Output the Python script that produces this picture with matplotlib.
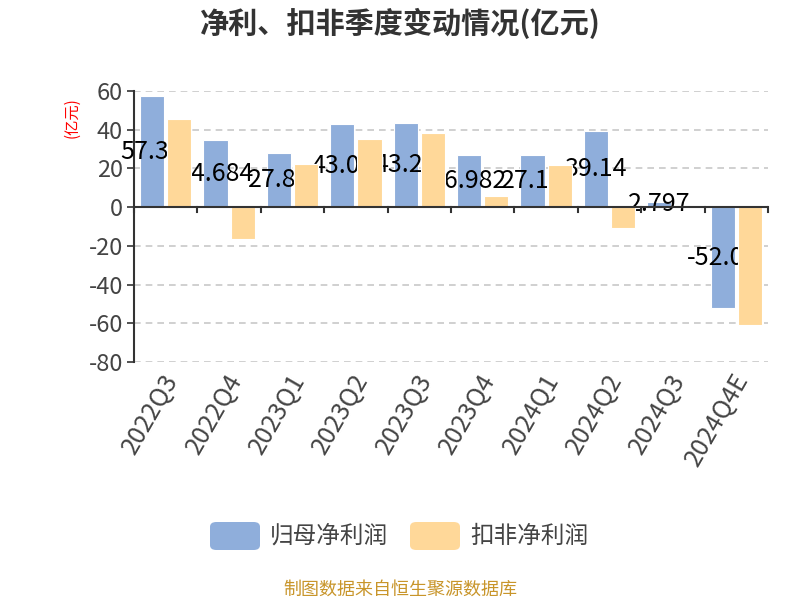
import matplotlib
matplotlib.use("Agg")
import matplotlib.pyplot as plt
from matplotlib.patches import FancyBboxPatch
import numpy as np

plt.rcParams['font.family'] = ['Noto Sans CJK SC', 'DejaVu Sans']

categories = ["2022Q3", "2022Q4", "2023Q1", "2023Q2", "2023Q3",
              "2023Q4", "2024Q1", "2024Q2", "2024Q3", "2024Q4E"]
net_profit = [57.39, 34.684, 27.82, 43.02, 43.22, 26.982, 27.13, 39.14, 2.797, -52.04]
deducted_profit = [45.5, -16.2, 22.2, 35.1, 38.2, 6.0, 21.7, -10.8, 0.5, -61.0]
series_names = ["归母净利润", "扣非净利润"]
yticks = [-80, -60, -40, -20, 0, 20, 40, 60]

blue = "#8FAEDB"
beige = "#FFD899"

fig = plt.figure(figsize=(8, 6), dpi=100)
ax = fig.add_axes([134/800, 1-362/600, (768-134)/800, (362-91)/600])

x = np.arange(len(categories))
w = 0.38
off = 0.215
ax.bar(x - off, net_profit, width=w, color=blue, edgecolor="white", linewidth=0.8, zorder=2)
for xi, v in zip(x, net_profit):
    ax.text(xi - off, v / 2, f"{v:g}", ha="center", va="center", fontsize=18,
            color="black", zorder=3)
ax.bar(x + off, deducted_profit, width=w, color=beige, edgecolor="white", linewidth=0.8, zorder=4)

ax.set_xlim(-0.5, len(categories) - 0.5)
ax.set_ylim(-80, 60)
ax.set_yticks(yticks)
ax.set_yticklabels([str(t) for t in yticks], fontsize=17, color="#444")
ax.tick_params(axis="y", length=5, width=1.2, color="#333", pad=3)
ax.yaxis.grid(True, linestyle=(0, (4, 3)), color="#c8c8c8", linewidth=1.2, zorder=0)
ax.set_axisbelow(True)

for s in ["top", "right", "bottom"]:
    ax.spines[s].set_visible(False)
ax.spines["left"].set_color("#333")
ax.spines["left"].set_linewidth(1.5)

# x axis line at zero with boundary ticks
ax.axhline(0, color="#333", linewidth=1.5, zorder=5)
ax.set_xticks([])
for b in np.arange(-0.5, len(categories) + 0.5, 1.0):
    ax.plot([b, b], [0, -2.6], color="#333", linewidth=1.5, zorder=5, clip_on=False)

for xi, c in zip(x, categories):
    ax.annotate(c, xy=(xi, -80), xytext=(-3, -5), textcoords="offset points",
                ha="right", va="top", rotation=60, rotation_mode="anchor",
                fontsize=18, color="#444", annotation_clip=False)

fig.text(72/800, 1-118/600, "(亿元)", rotation=90, color="red", fontsize=11,
         ha="center", va="center")

fig.text(0.5, 1-23/600, "净利、扣非季度变动情况(亿元)", ha="center", va="center",
         fontsize=21, fontweight="bold", color="#333")

# legend
for (px, col, name, tx) in [(210, blue, series_names[0], 270), (410, beige, series_names[1], 470)]:
    p = FancyBboxPatch((px/800, 1-550/600), 50/800, 28/600,
                       boxstyle="round,pad=0,rounding_size=0.008",
                       transform=fig.transFigure, facecolor=col, edgecolor="none")
    fig.patches.append(p)
    fig.text(tx/800, 1-536/600, name, ha="left", va="center", fontsize=17, color="#444")

fig.text(0.5, 1-590/600, "制图数据来自恒生聚源数据库", ha="center", va="center",
         fontsize=13, color="#C8952A")

fig.savefig("out.png", dpi=100)
